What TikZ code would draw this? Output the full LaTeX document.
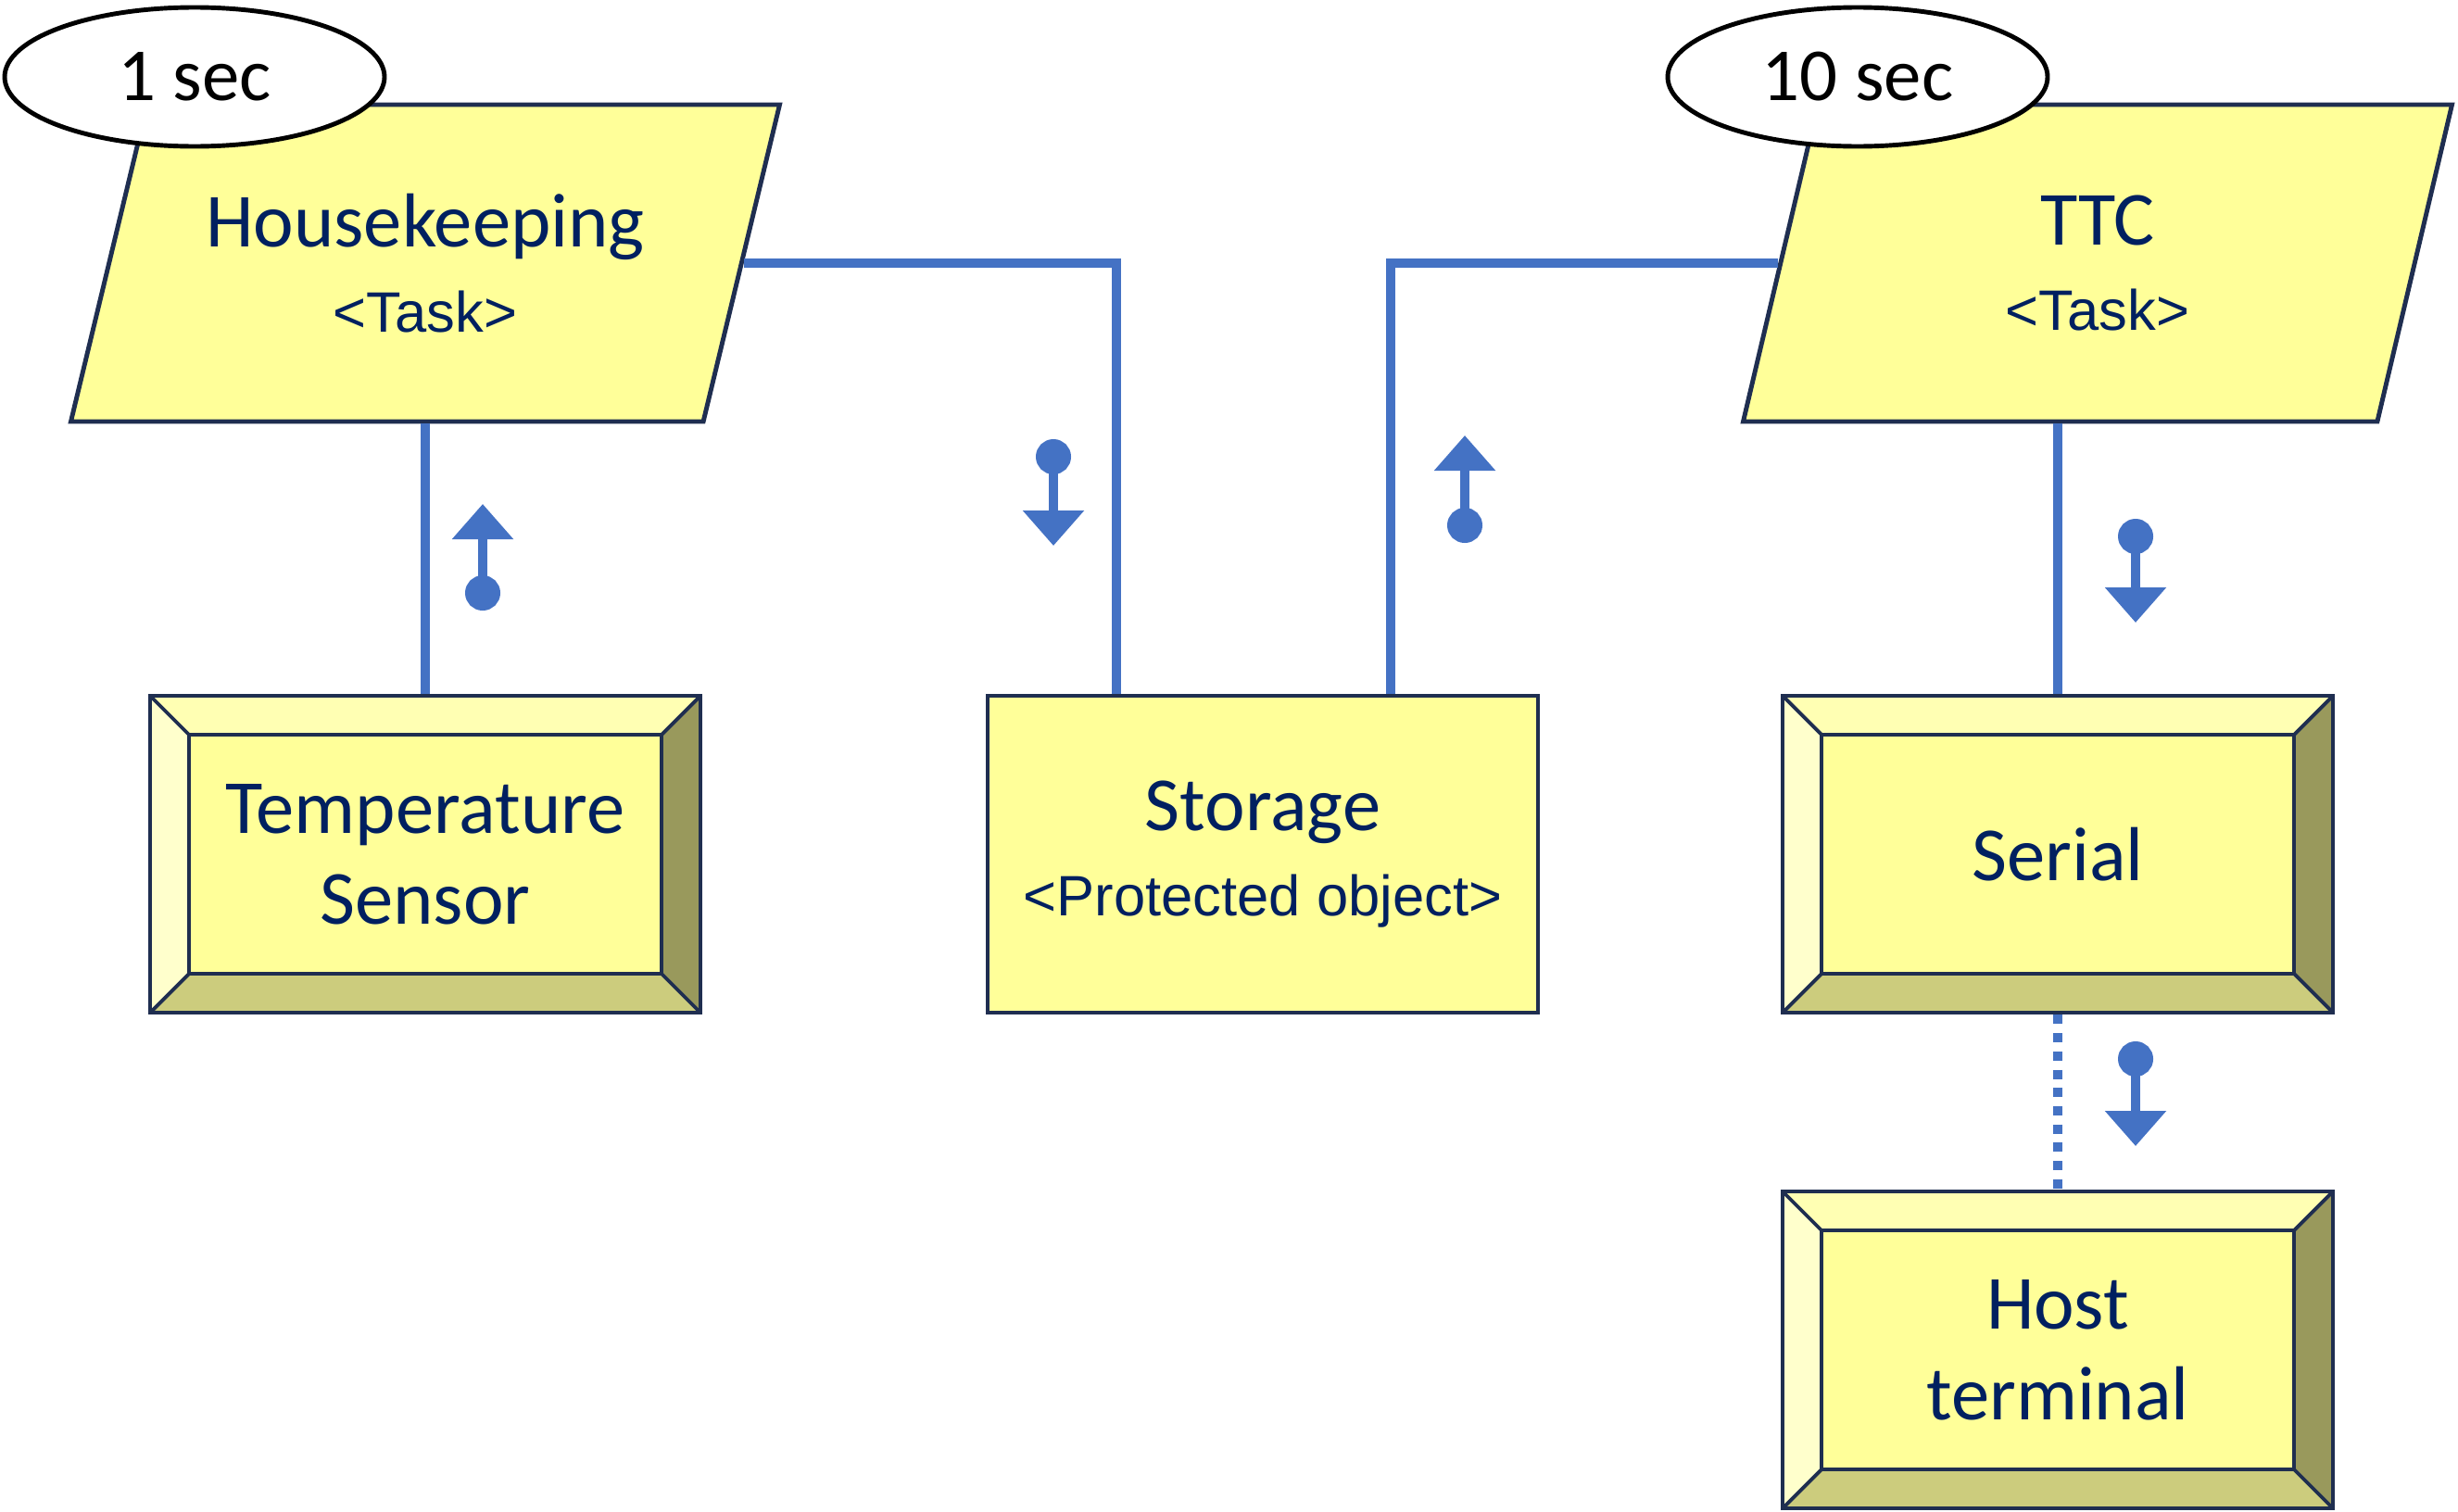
\documentclass[tikz,border=0pt]{standalone}
\usepackage{fontspec}
\setmainfont{Carlito}
\newfontfamily\stereofont{Liberation Sans}
\usepackage{tikz}
\usetikzlibrary{arrows.meta,shapes.geometric,positioning}
\usepackage{xcolor}
\definecolor{dfblue}{RGB}{68,114,196}
\definecolor{dfnavy}{RGB}{31,46,80}
\definecolor{dftext}{RGB}{0,32,96}
\definecolor{dfyellow}{RGB}{255,255,153}
\definecolor{dfbevtop}{RGB}{255,255,179}
\definecolor{dfbevleft}{RGB}{255,255,204}
\definecolor{dfbevright}{RGB}{153,153,92}
\definecolor{dfbevbottom}{RGB}{204,204,125}
\newcommand{\bev}{0.42cm}
\newcommand{\stereo}[1]{{\stereofont\fontsize{17.5}{20}\selectfont #1}}
\tikzstyle{link} = [line width=2.7pt, color=dfblue]
\tikzstyle{flow} = [line width=3.1pt, color=dfblue, arrows={Circle[length=0.38cm,width=0.38cm]-Triangle[length=0.38cm,width=0.64cm]}]
\tikzstyle{task} = [trapezium, trapezium left angle=64.5, trapezium right angle=115.5, trapezium stretches body, minimum width=7.65cm, minimum height=3.42cm, draw=dfnavy, line width=1.4pt, fill=dfyellow, text=dftext, align=center, font=\fontsize{23.5}{28}\selectfont]
\tikzstyle{period} = [ellipse, draw=black, line width=1.4pt, fill=white, minimum width=4.1cm, minimum height=1.5cm, inner sep=0pt, font=\fontsize{23}{28}\selectfont]
\tikzstyle{protected} = [rectangle, draw=dfnavy, line width=1.4pt, fill=dfyellow, minimum width=5.94cm, minimum height=3.42cm, text=dftext, align=center, font=\fontsize{23.5}{28}\selectfont]
\tikzstyle{device} = [protected, path picture={
  \coordinate (nw) at (path picture bounding box.north west);
  \coordinate (ne) at (path picture bounding box.north east);
  \coordinate (sw) at (path picture bounding box.south west);
  \coordinate (se) at (path picture bounding box.south east);
  \coordinate (inw) at ([shift={(\bev,-\bev)}]nw);
  \coordinate (ine) at ([shift={(-\bev,-\bev)}]ne);
  \coordinate (isw) at ([shift={(\bev,\bev)}]sw);
  \coordinate (ise) at ([shift={(-\bev,\bev)}]se);
  \fill[dfbevtop] (nw) -- (ne) -- (ine) -- (inw) -- cycle;
  \fill[dfbevleft] (nw) -- (sw) -- (isw) -- (inw) -- cycle;
  \fill[dfbevright] (ne) -- (se) -- (ise) -- (ine) -- cycle;
  \fill[dfbevbottom] (sw) -- (se) -- (ise) -- (isw) -- cycle;
  \draw[dfnavy, line width=1.1pt] (inw) rectangle (ise) (nw) -- (inw) (ne) -- (ine) (sw) -- (isw) (se) -- (ise);
  \draw[dfnavy, line width=1.4pt] (nw) rectangle (se);
}]

\begin{document}
\begin{tikzpicture}
\useasboundingbox (0,0) rectangle (26.53,-16.31);

% Objects
\node (temp) [device] at (4.59,-9.22) {Temperature\\Sensor};
\node (storage) [protected, right of=temp, node distance=9.04cm] {Storage\\[-2pt]\stereo{<Protected object>}};
\node (serial) [device, right of=storage, node distance=8.58cm] {Serial};
\node (host) [device, below of=serial, node distance=5.35cm] {Host\\terminal};

% Tasks
\node (hk) [task, above of=temp, node distance=6.38cm] {Housekeeping\\[-2pt]\stereo{<Task>}};
\node (ttc) [task, above of=serial, node distance=6.38cm, xshift=0.43cm] {TTC\\[-2pt]\stereo{<Task>}};

% Periods
\node (hkper) [period] at (2.10,-0.83) {1 sec};
\node (ttcper) [period] at (20.05,-0.83) {10 sec};

% Links
\draw[link] (hk.south -| temp.north) -- (temp.north);
\draw[link] (hk.right side) -| ([xshift=-1.58cm]storage.north);
\draw[link] ([xshift=1.38cm]storage.north) |- (ttc.left side);
\draw[link] (ttc.south -| serial.north) -- (serial.north);
\draw[link, dash pattern=on 0.1cm off 0.097cm] (serial.south) -- (host.north);

% Data flows
\foreach \m/\x/\ya/\yb in {f1/5.21/-6.59/-5.44, f2/11.37/-4.74/-5.89, f3/15.81/-5.86/-4.70, f4/23.05/-5.60/-6.72, f5/23.05/-11.24/-12.37}{
  \coordinate (\m a) at (\x,\ya);
  \coordinate (\m b) at (\x,\yb);
  \draw[flow] (\m a) -- (\m b);
}

\end{tikzpicture}
\end{document}
